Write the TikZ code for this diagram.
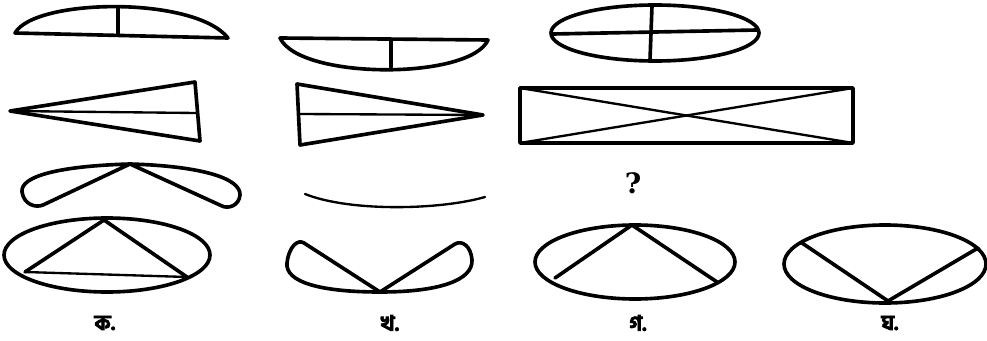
\documentclass[tikz,border=0pt]{standalone}
\usepackage{fontspec}
\usepackage{tikz}
\usepackage{xcolor}
\newfontfamily\bngfont[Script=Bengali, FakeBold=4]{Hind Siliguri}
\newfontfamily\qfont{DejaVu Serif}
\definecolor{ink}{HTML}{000000}
\tikzset{
  fig/.style      ={draw=ink, line width=3.1pt, line join=round, line cap=round},
  thinfig/.style  ={draw=ink, line width=2pt, line join=round, line cap=round},
  optlabel/.style ={font=\bngfont\bfseries\fontsize{18}{20}\selectfont, text=ink, inner sep=0pt},
  qmark/.style    ={font=\qfont\bfseries\fontsize{24}{26}\selectfont, text=ink, inner sep=0pt},
}
\begin{document}
\begin{tikzpicture}[x=0.03cm,y=-0.03cm]
  \useasboundingbox (0,0) rectangle (987,341);

  % row 1
  \draw[fig] (15,33) .. controls (35,-2) and (195,-4) .. (228,38) -- cycle;
  \draw[fig] (118,8) -- (118,35);
  \draw[fig] (280,38) .. controls (300,80) and (470,80) .. (488,40) -- cycle;
  \draw[fig] (391,40) -- (391,67);
  \draw[fig] (655,33) ellipse [x radius=104, y radius=28];
  \draw[fig] (553,34) -- (757,30);
  \draw[fig] (652,6) -- (650,60);

  % row 2
  \draw[fig] (10,111) -- (195,82) -- (200,141) -- cycle;
  \draw[thinfig] (10,111) -- (196,113);
  \draw[fig] (297,84) -- (483,115) -- (300,145) -- cycle;
  \draw[thinfig] (299,114) -- (483,115);
  \draw[fig] (520,88) rectangle (853,143);
  \draw[thinfig] (520,88) -- (853,143);
  \draw[thinfig] (520,143) -- (853,88);

  % row 3
  \draw[fig] (130,164) .. controls (60,166) and (20,176) .. (22,192)
    .. controls (24,205) and (36,208) .. (43,205) -- cycle;
  \draw[fig] (130,164) .. controls (200,166) and (241,178) .. (240,195)
    .. controls (239,206) and (228,209) .. (222,206) -- cycle;
  \draw[thinfig] (305,194) .. controls (350,212) and (440,210) .. (485,197);
  \node[qmark] (ask) at (633,183) {?};

  % row 4
  \draw[fig] (107,255) ellipse [x radius=103, y radius=37];
  \draw[fig] (25,272) -- (104,220) -- (187,277);
  \draw[thinfig] (25,272) -- (187,277);
  \draw[fig] (380,292) .. controls (320,292) and (285,282) .. (287,263)
    .. controls (289,246) and (298,239) .. (304,243) -- cycle;
  \draw[fig] (380,292) .. controls (440,292) and (473,280) .. (472,260)
    .. controls (471,246) and (462,240) .. (455,244) -- cycle;
  \draw[fig] (635,262) ellipse [x radius=100, y radius=37];
  \draw[fig] (555,278) -- (632,225) -- (717,282);
  \draw[fig] (885,264) ellipse [x radius=101, y radius=39];
  \draw[fig] (802,243) -- (888,301) -- (978,248);

  % labels
  \node[optlabel] (ka)  at (105,323) {ক.};
  \node[optlabel] (kha) at (390,323) {খ.};
  \node[optlabel] (ga)  at (638,323) {গ.};
  \node[optlabel] (gha) at (890,323) {ঘ.};
\end{tikzpicture}
\end{document}
